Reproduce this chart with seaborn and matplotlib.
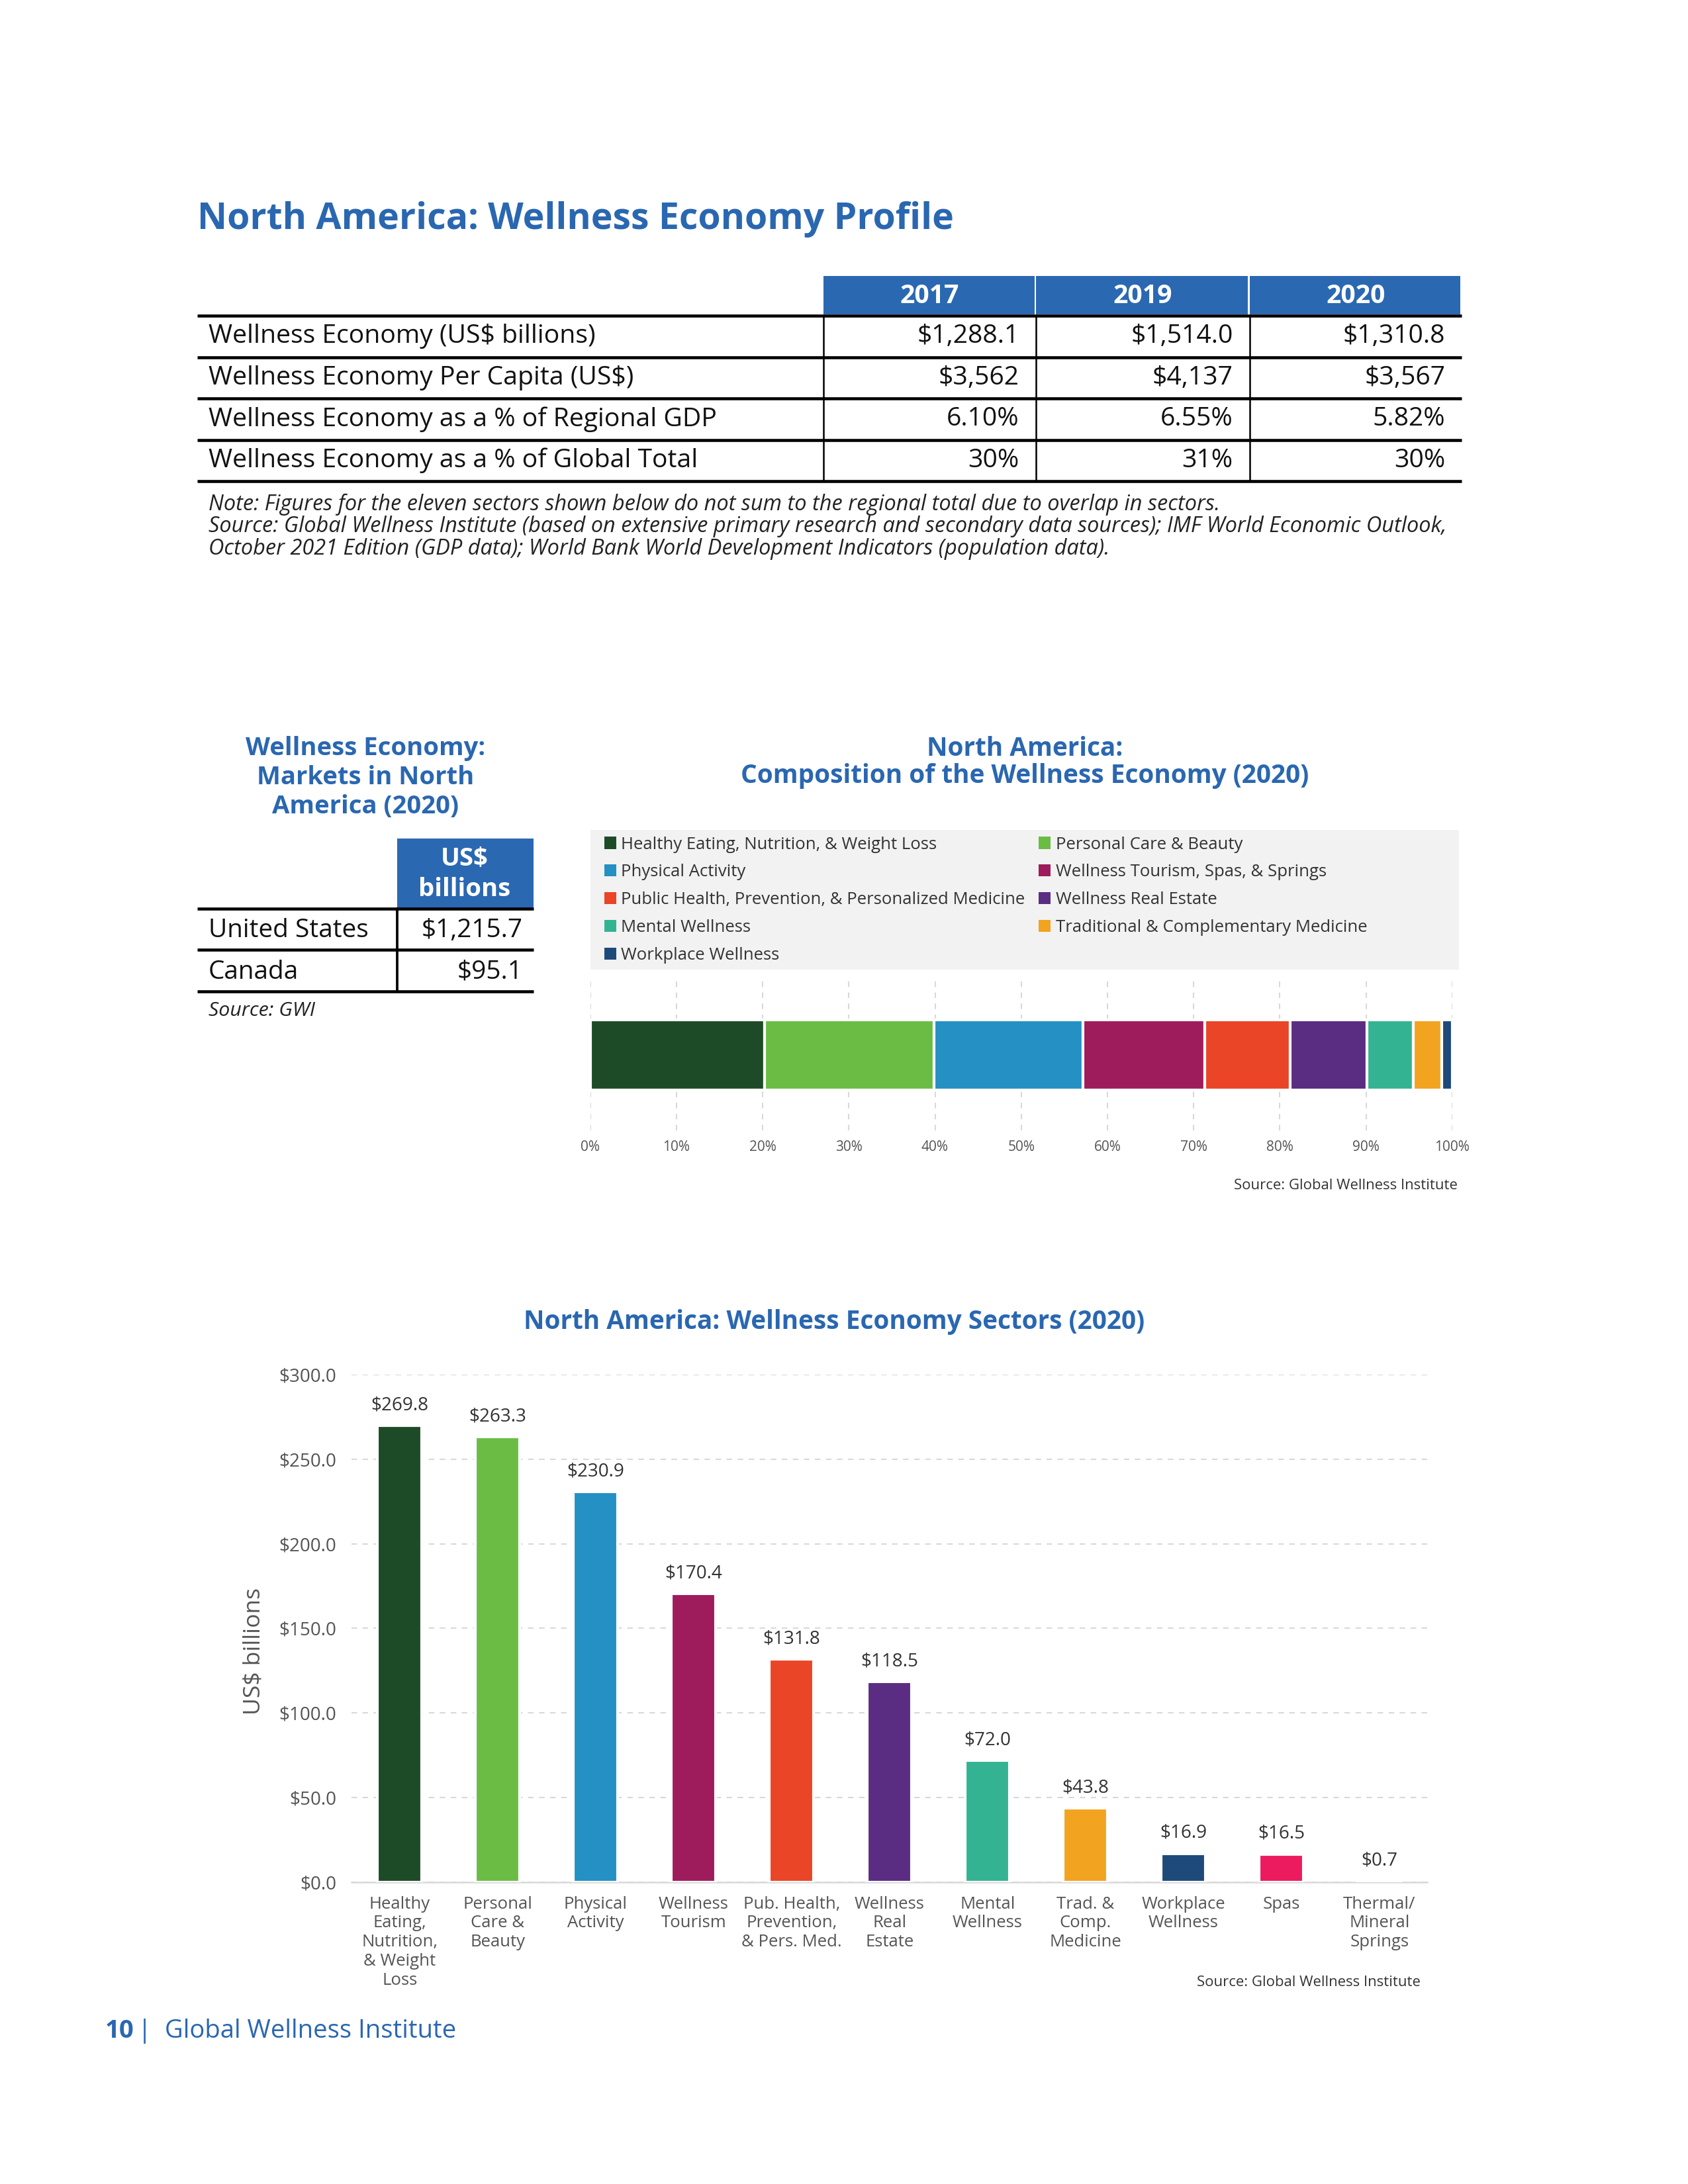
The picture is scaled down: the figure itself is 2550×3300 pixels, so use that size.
import numpy as np
import pandas as pd
import seaborn as sns
import matplotlib.pyplot as plt
from matplotlib.patches import Rectangle, Patch

# ---- data ----
years = ["2017", "2019", "2020"]
profile_rows = ["Wellness Economy (US$ billions)",
                "Wellness Economy Per Capita (US$)",
                "Wellness Economy as a % of Regional GDP",
                "Wellness Economy as a % of Global Total"]
profile_2017 = ["$1,288.1", "$3,562", "6.10%", "30%"]
profile_2019 = ["$1,514.0", "$4,137", "6.55%", "31%"]
profile_2020 = ["$1,310.8", "$3,567", "5.82%", "30%"]

notes = ["Note: Figures for the eleven sectors shown below do not sum to the regional total due to overlap in sectors.",
         "Source: Global Wellness Institute (based on extensive primary research and secondary data sources); IMF World Economic Outlook,",
         "October 2021 Edition (GDP data); World Bank World Development Indicators (population data)."]

markets = ["United States", "Canada"]
market_values = ["$1,215.7", "$95.1"]

comp_sectors = ["Healthy Eating, Nutrition, & Weight Loss", "Personal Care & Beauty",
                "Physical Activity", "Wellness Tourism, Spas, & Springs",
                "Public Health, Prevention, & Personalized Medicine", "Wellness Real Estate",
                "Mental Wellness", "Traditional & Complementary Medicine",
                "Workplace Wellness"]
comp_shares = [20.2, 19.7, 17.3, 14.1, 9.9, 8.9, 5.4, 3.3, 1.2]
comp_colors = ["#1e4b27", "#6bbc45", "#2490c3", "#9e1c5c", "#e94526",
               "#5a2c82", "#34b393", "#f2a320", "#1e4a7a"]

sector_labels = ["Healthy\nEating,\nNutrition,\n& Weight\nLoss", "Personal\nCare &\nBeauty",
                 "Physical\nActivity", "Wellness\nTourism", "Pub. Health,\nPrevention,\n& Pers. Med.",
                 "Wellness\nReal\nEstate", "Mental\nWellness", "Trad. &\nComp.\nMedicine",
                 "Workplace\nWellness", "Spas", "Thermal/\nMineral\nSprings"]
sector_values = [269.8, 263.3, 230.9, 170.4, 131.8, 118.5, 72.0, 43.8, 16.9, 16.5, 0.7]
sector_colors = ["#1e4b27", "#6bbc45", "#2490c3", "#9e1c5c", "#e94526", "#5a2c82",
                 "#34b393", "#f2a320", "#1e4a7a", "#ec1a5f", "#f5c4d3"]

BLUE = "#2a67b1"
HEAD = "#2b68b2"
GRAY = "#555555"

sns.set_theme(style="white")
plt.rcParams['font.family'] = ['Open Sans', 'DejaVu Sans']

fig = plt.figure(figsize=(8.5, 11), dpi=300)
W, H = 1224, 1584


def box(x0, y0, x1, y1):
    return [x0 / W, 1 - y1 / H, (x1 - x0) / W, (y1 - y0) / H]


# page layer in page pixel units
bg = fig.add_axes([0, 0, 1, 1])
bg.set_xlim(0, W)
bg.set_ylim(H, 0)
bg.axis('off')

# ---- profile table ----
bg.text(143, 159, "North America: Wellness Economy Profile", fontsize=13.3,
        fontweight='bold', color=BLUE, va='center')
col_x = [597, 751, 906, 1060]
for i, yr in enumerate(years):
    bg.add_patch(Rectangle((col_x[i], 200), col_x[i + 1] - col_x[i] - 1, 28, color=HEAD, lw=0))
    bg.text((col_x[i] + col_x[i + 1]) / 2, 215, yr, fontsize=9.4, fontweight='bold',
            color='white', ha='center', va='center')
for j in range(len(profile_rows) + 1):
    bg.plot([143, 1060], [229 + 30 * j] * 2, color='black', lw=1.1, solid_capstyle='butt')
for xv in col_x[:3]:
    bg.plot([xv, xv], [229, 349], color='black', lw=0.6)
for j, row in enumerate(profile_rows):
    yc = 244 + 30 * j
    bg.text(151, yc, row, fontsize=9.4, va='center', color='#111111')
    for i, vals in enumerate([profile_2017, profile_2019, profile_2020]):
        bg.text(col_x[i + 1] - 12, yc, vals[j], fontsize=9.4, va='center', ha='right', color='#111111')
for k, line in enumerate(notes):
    bg.text(151, 366 + 16 * k, line, fontsize=7.8, style='italic', va='center', color='#222222')

# ---- markets table ----
for k, line in enumerate(["Wellness Economy:", "Markets in North", "America (2020)"]):
    bg.text(265, 543 + 21 * k, line, fontsize=9.2, fontweight='bold', color=BLUE,
            ha='center', va='center')
bg.add_patch(Rectangle((288, 608), 99, 51, color=HEAD, lw=0))
bg.text(337, 623, "US$", fontsize=9.2, fontweight='bold', color='white', ha='center', va='center')
bg.text(337, 645, "billions", fontsize=9.2, fontweight='bold', color='white', ha='center', va='center')
for yv in [659, 689, 719]:
    bg.plot([143, 387], [yv, yv], color='black', lw=1.1, solid_capstyle='butt')
bg.plot([288, 288], [659, 719], color='black', lw=0.9)
for j, (m, v) in enumerate(zip(markets, market_values)):
    bg.text(151, 675 + 30 * j, m, fontsize=9.3, va='center', color='#111111')
    bg.text(379, 675 + 30 * j, v, fontsize=9.3, va='center', ha='right', color='#111111')
bg.text(151, 733, "Source: GWI", fontsize=7.3, style='italic', va='center', color='#222222')

# ---- composition chart ----
bg.text(743, 543, "North America:", fontsize=9.3, fontweight='bold', color=BLUE, ha='center', va='center')
bg.text(743, 563, "Composition of the Wellness Economy (2020)", fontsize=9.3, fontweight='bold',
        color=BLUE, ha='center', va='center')
bg.add_patch(Rectangle((428, 602), 630, 101, color='#f2f2f2', lw=0))

axc = fig.add_axes(box(428, 710, 1053, 820))
left = np.concatenate([[0], np.cumsum(comp_shares)[:-1]])
axc.barh(0, comp_shares, left=left, height=0.464, color=comp_colors, zorder=3)
axc.set_xlim(0, 100)
axc.set_ylim(-0.5, 0.5)
axc.set_xticks(range(0, 101, 10))
axc.set_xticklabels([f"{t}%" for t in range(0, 101, 10)], fontsize=5, color=GRAY)
axc.set_yticks([])
axc.tick_params(axis='x', length=0, pad=3.5)
axc.grid(axis='x', color='#d9d9d9', ls=(0, (4, 4)), lw=0.5)
for s in axc.spines.values():
    s.set_visible(False)
axc.patch.set_alpha(0)
bg.text(1057, 860, "Source: Global Wellness Institute", fontsize=5.3, ha='right', va='center', color='#333333')

handles = [Patch(facecolor=c, edgecolor='none', label=l) for c, l in zip(comp_colors, comp_sectors)]
order = [0, 2, 4, 6, 8, 1, 3, 5, 7]
fig.legend([handles[i] for i in order], [comp_sectors[i] for i in order], ncol=2,
           loc='upper left', bbox_to_anchor=(438 / W, 1 - 606.5 / H), frameon=False,
           fontsize=6.2, handlelength=0.7, handleheight=0.7, handletextpad=0.3,
           labelspacing=0.65, columnspacing=0.8, borderpad=0, borderaxespad=0,
           labelcolor='#333333')

# ---- sectors bar chart ----
bg.text(605, 959, "North America: Wellness Economy Sectors (2020)", fontsize=9.3,
        fontweight='bold', color=BLUE, ha='center', va='center')
df = pd.DataFrame({"sector": sector_labels, "value": sector_values})
axb = fig.add_axes(box(255, 997, 1035, 1365))
sns.barplot(data=df, x="sector", y="value", hue="sector", palette=sector_colors,
            width=0.45, saturation=1, legend=False, ax=axb, zorder=3)
for cont, v in zip(axb.containers, sector_values):
    axb.bar_label(cont, labels=[f"${v:.1f}"], padding=4, fontsize=6.7, color='#333333')
axb.set_xlim(-0.49, 10.49)
axb.set_ylim(0, 300)
axb.set_yticks(range(0, 301, 50))
axb.set_yticklabels([f"${t:.1f}" for t in range(0, 301, 50)], fontsize=6.7, color=GRAY)
axb.tick_params(axis='x', length=0, pad=5, labelsize=6.2, labelcolor=GRAY)
axb.tick_params(axis='y', length=0, pad=5.5)
for lab in axb.get_xticklabels():
    lab.set_linespacing(1.2)
axb.set_xlabel("")
axb.set_ylabel("US$ billions", fontsize=8.5, color=GRAY, va='center')
axb.yaxis.set_label_coords(-0.091, 0.455)
axb.grid(axis='y', color='#d9d9d9', ls=(0, (4, 4)), lw=0.5)
axb.set_axisbelow(True)
for s in ['top', 'right', 'left']:
    axb.spines[s].set_visible(False)
axb.spines['bottom'].set_color('#d9d9d9')
axb.spines['bottom'].set_linewidth(0.6)
axb.patch.set_alpha(0)
bg.text(1030, 1438, "Source: Global Wellness Institute", fontsize=5.3, ha='right', va='center', color='#333333')

# footer
bg.text(76, 1473, "10", fontsize=9.2, fontweight='bold', color=BLUE, va='center')
bg.text(100, 1473, "|  Global Wellness Institute", fontsize=9.2, color=BLUE, va='center')

fig.savefig("out.png", dpi=300)
